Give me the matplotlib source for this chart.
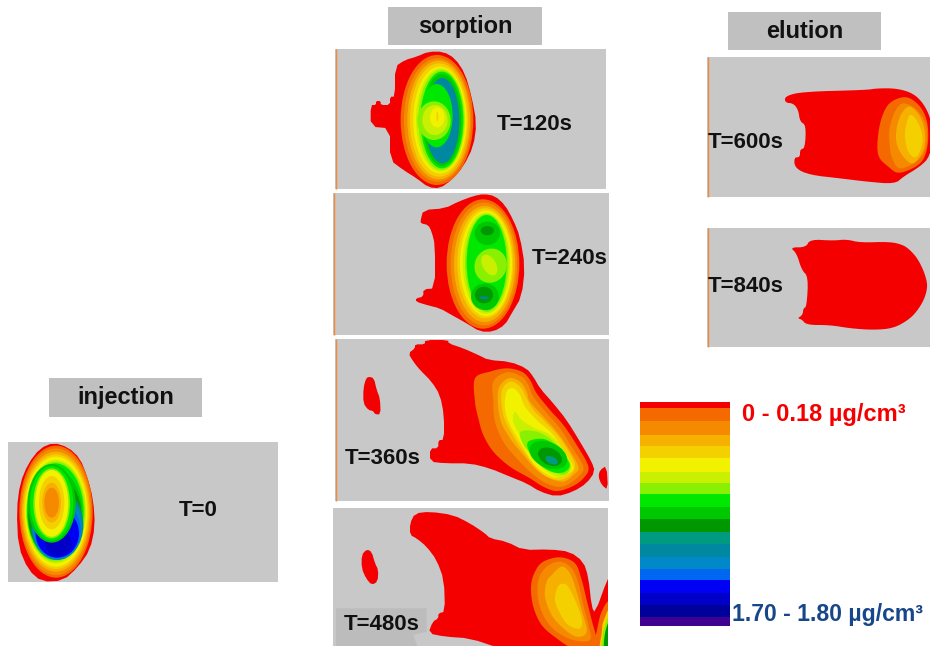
import numpy as np
import matplotlib
matplotlib.use("Agg")
import matplotlib.pyplot as plt
from matplotlib.patches import Ellipse, Polygon, Rectangle

plt.rcParams['font.family'] = ['Liberation Sans', 'DejaVu Sans']

# colour scale, red (low) to violet (high), with the pixel height of each strip
scale_colors = ['#f50000', '#f56a00', '#f58a00', '#f5b000', '#f5d000', '#f2f200', '#c8f000',
                '#88f000', '#00e800', '#00c800', '#009800', '#009a80', '#0088a0', '#0088c8',
                '#0068f0', '#0000f5', '#0000c8', '#00009a', '#400090']
scale_heights = [6, 13, 14, 11, 12, 14, 11, 11, 13, 12, 13, 12, 13, 12, 11, 13, 12, 12, 9]
scale_low = '0 - 0.18 µg/cm³'
scale_high = '1.70 - 1.80 µg/cm³'

headers = ['injection', 'sorption', 'elution']
times = ['T=0', 'T=120s', 'T=240s', 'T=360s', 'T=480s', 'T=600s', 'T=840s']

# Concentration outlines at 3x, each relative to its crop origin.
# Ellipse bands are (colour index, cx, cy, rx, ry, tilt)
t0_red = [(160, 218), (205, 232), (240, 265), (262, 320), (280, 390), (285, 470), (270, 540), (235, 590),
          (190, 632), (125, 635), (85, 600), (55, 530), (50, 420), (60, 340), (85, 280), (120, 235)]
t0_bands = [(1, 168, 425, 110, 198, 0), (2, 168, 425, 106, 190, 0), (3, 168, 425, 102, 180, 0),
            (4, 168, 425, 98, 172, 0), (5, 168, 425, 94, 165, 0), (6, 168, 425, 90, 155, 0),
            (7, 167, 425, 88, 150, 0), (8, 166, 425, 85, 145, 0), (9, 165, 430, 82, 130, 0),
            (10, 165, 440, 80, 120, 0), (12, 172, 465, 78, 105, 0), (13, 172, 470, 74, 98, 0),
            (14, 172, 480, 70, 85, 0), (15, 172, 490, 65, 73, 0), (16, 175, 520, 40, 38, 0),
            (9, 155, 400, 72, 118, 0), (8, 155, 400, 65, 112, 0), (7, 155, 400, 55, 105, 0),
            (5, 155, 400, 50, 100, 0), (4, 155, 398, 38, 80, 0), (3, 155, 398, 28, 60, 0),
            (2, 155, 398, 22, 45, 0)]

t120_red = [(295, 155), (340, 155), (375, 175), (405, 220), (425, 290), (440, 370), (430, 440), (400, 500),
            (365, 540), (330, 565), (295, 562), (260, 535), (220, 510), (180, 480), (180, 385), (122, 380),
            (122, 315), (138, 315), (138, 303), (152, 303), (152, 315), (180, 315), (180, 290), (195, 290),
            (195, 200), (225, 180), (260, 170)]
t120_bands = [(1, 321, 360, 109, 195, 0), (2, 323, 360, 101, 185, 0), (3, 326, 360, 94, 178, 0),
              (4, 327, 360, 87, 170, 0), (5, 330, 360, 80, 160, 0), (6, 332, 360, 74, 155, 0),
              (7, 334, 360, 69, 150, 0), (8, 336, 360, 64, 145, 0), (9, 336, 360, 58, 138, 0),
              (12, 337, 362, 51, 128, 0), (8, 320, 347, 48, 95, 0), (7, 312, 362, 50, 58, 0),
              (6, 315, 360, 38, 45, 0), (5, 322, 352, 22, 30, 0), (4, 322, 350, 3, 15, 0)]

t240_red = [(462, 12), (495, 18), (525, 45), (550, 90), (570, 140), (585, 230), (575, 320), (545, 370),
            (525, 405), (490, 425), (450, 425), (410, 400), (365, 375), (330, 355), (290, 345), (258, 335),
            (258, 325), (280, 320), (280, 298), (315, 295), (315, 165), (305, 125), (295, 105), (272, 100),
            (272, 90), (280, 60), (345, 55), (385, 35), (430, 18)]
t240_bands = [(1, 459, 222, 109, 194, 0), (2, 462, 222, 100, 184, 0), (3, 464, 222, 92, 174, 0),
              (4, 466, 220, 84, 165, 0), (5, 468, 220, 78, 158, 0), (6, 469, 220, 71, 152, 0),
              (7, 470, 219, 65, 147, 0), (8, 470, 218, 60, 143, 0), (9, 472, 130, 38, 35, 0),
              (9, 465, 320, 42, 40, 0), (10, 472, 122, 20, 14, 0), (10, 462, 315, 27, 25, 0),
              (12, 462, 323, 14, 4, 0), (7, 482, 227, 48, 52, 25), (6, 478, 225, 34, 20, 60)]

t360_red = [(285, 15), (355, 15), (355, 25), (400, 40), (445, 60), (475, 75), (540, 80), (590, 100), (610, 125),
            (630, 160), (670, 205), (710, 255), (750, 320), (785, 380), (795, 410), (770, 445), (730, 470),
            (680, 485), (630, 470), (590, 445), (540, 425), (480, 400), (420, 385), (345, 385), (300, 380),
            (300, 340), (325, 340), (325, 315), (342, 315), (342, 240), (330, 180), (305, 140), (270, 105),
            (250, 80), (235, 55), (255, 40), (255, 28), (285, 28)]
t360_island1 = [(118, 125), (132, 130), (140, 165), (150, 190), (152, 238), (135, 238), (130, 228), (115, 225),
                (100, 205), (100, 160), (108, 130)]
t360_island2 = [(830, 392), (834, 465), (815, 450), (805, 425), (810, 405)]
t360_c1 = [(435, 130), (480, 110), (530, 100), (575, 110), (600, 135), (620, 175), (660, 225), (700, 270),
           (740, 330), (775, 395), (760, 430), (725, 455), (680, 468), (640, 455), (600, 430), (540, 395),
           (490, 350), (460, 300), (445, 250), (435, 200)]
t360_c2 = [(490, 140), (530, 112), (575, 125), (595, 150), (610, 185), (650, 235), (690, 280), (725, 335),
           (760, 395), (745, 425), (710, 450), (680, 455), (640, 440), (600, 410), (560, 370), (520, 320),
           (495, 260), (490, 200)]
t360_c3 = [(505, 165), (535, 130), (570, 140), (590, 170), (600, 200), (640, 245), (680, 290), (715, 340),
           (745, 395), (730, 420), (700, 440), (660, 430), (620, 405), (580, 360), (540, 310), (510, 250)]
t360_c4 = [(515, 170), (540, 140), (570, 155), (590, 190), (610, 225), (650, 265), (690, 310), (725, 365),
           (735, 395), (720, 420), (690, 435), (650, 425), (615, 395), (580, 350), (545, 295), (520, 240)]
t360_c5 = [(530, 170), (550, 160), (570, 180), (585, 215), (620, 255), (665, 295), (700, 345), (730, 395),
           (715, 415), (680, 428), (645, 415), (610, 385), (575, 330), (540, 270), (525, 220)]
t360_c6 = [(555, 230), (575, 255), (615, 280), (660, 300), (700, 345), (725, 395), (705, 420), (680, 425),
           (640, 400), (600, 355), (570, 300), (550, 260)]
t360_c7 = [(572, 290), (620, 290), (665, 315), (705, 360), (722, 395), (700, 420), (650, 400), (605, 360),
           (578, 325)]
t360_c8 = [(595, 320), (640, 312), (680, 335), (718, 385), (705, 410), (670, 412), (630, 390), (598, 350)]
t360_curves = [(1, t360_c1), (2, t360_c2), (3, t360_c3), (4, t360_c4), (5, t360_c5), (6, t360_c6), (7, t360_c7),
               (8, t360_c8)]
t360_bands = [(9, 655, 360, 60, 38, 25), (10, 660, 365, 38, 25, 25), (11, 665, 376, 20, 11, 25)]

t480_red = [(255, 40), (300, 35), (370, 45), (420, 70), (465, 100), (480, 115), (530, 125), (580, 150), (660, 148),
            (720, 155), (760, 185), (775, 230), (785, 320), (795, 340), (833, 235), (840, 235), (840, 445), (510, 445),
            (420, 415), (345, 410), (295, 400), (308, 365), (325, 355), (325, 340), (345, 335), (342, 240),
            (320, 180), (290, 140), (260, 115), (240, 105), (240, 70)]
t480_island = [(110, 148), (125, 155), (135, 190), (145, 210), (143, 245), (125, 255), (108, 235), (95, 205),
               (95, 165)]
t480_shadow = [(18, 325), (290, 325), (290, 395), (250, 405), (262, 438), (18, 438)]
t480_c1 = [(640, 185), (690, 172), (735, 190), (755, 240), (770, 300), (785, 360), (800, 420), (790, 445),
           (730, 445), (680, 415), (635, 375), (610, 320), (603, 260), (615, 215)]
t480_c2 = [(650, 200), (690, 185), (725, 205), (745, 250), (760, 315), (775, 375), (780, 420), (730, 420),
           (680, 395), (645, 355), (625, 300), (625, 240)]
t480_c3 = [(665, 225), (695, 200), (720, 220), (740, 275), (755, 330), (770, 395), (740, 410), (700, 385),
           (665, 345), (645, 290), (650, 245)]
t480_c4 = [(685, 258), (710, 255), (735, 300), (755, 355), (750, 385), (715, 375), (690, 340), (675, 300)]
t480_edge1 = [(840, 310), (815, 335), (800, 395), (790, 450), (840, 450)]
t480_edge2 = [(840, 330), (820, 365), (815, 400), (810, 450), (840, 450)]
t480_edge3 = [(840, 350), (824, 380), (818, 410), (816, 450), (840, 450)]
t480_edge4 = [(840, 365), (826, 395), (822, 450), (840, 450)]
t480_curves = [(1, t480_c1), (2, t480_c2), (3, t480_c3), (4, t480_c4), (1, t480_edge1), (4, t480_edge2),
               (7, t480_edge3), (10, t480_edge4)]

t600_red = [(255, 288), (310, 275), (500, 270), (530, 265), (590, 265), (640, 280), (670, 310), (690, 350),
            (700, 400), (690, 470), (660, 500), (610, 530), (585, 552), (500, 545), (420, 535), (330, 525), (285, 505),
            (282, 472), (300, 472), (300, 448), (315, 445), (318, 375), (300, 365), (295, 330), (280, 310),
            (255, 308)]
t600_c1 = [(535, 400), (550, 340), (575, 305), (620, 292), (660, 320), (682, 370), (682, 440), (660, 490),
           (600, 518), (565, 500), (535, 465)]
t600_c2 = [(570, 380), (585, 335), (610, 310), (650, 330), (678, 375), (678, 440), (655, 480), (600, 505),
           (575, 470), (568, 420)]
t600_c3 = [(590, 385), (605, 340), (630, 320), (660, 350), (675, 400), (670, 450), (640, 490), (610, 470),
           (590, 430)]
t600_c4 = [(615, 400), (630, 345), (655, 370), (668, 420), (650, 470), (625, 455)]
t600_curves = [(1, t600_c1), (2, t600_c2), (3, t600_c3), (4, t600_c4)]

t840_red = [(270, 742), (318, 742), (330, 718), (400, 722), (440, 718), (480, 728), (570, 725), (610, 735),
            (630, 750), (650, 772), (668, 805), (680, 840), (682, 865), (672, 900), (650, 935), (625, 960),
            (580, 985), (520, 990), (450, 985), (390, 975), (320, 975), (305, 958), (292, 955), (308, 945),
            (310, 925), (320, 920), (325, 830), (305, 810), (290, 760)]


def rounded(pts, n=2):
    # closed Catmull-Rom curve through the outline points
    pts = np.array(pts, dtype=float)
    p0, p1, p2, p3 = np.roll(pts, 1, axis=0), pts, np.roll(pts, -1, axis=0), np.roll(pts, -2, axis=0)
    out = []
    for t in np.linspace(0, 1, 6 * n, endpoint=False):
        out.append(0.5 * (2 * p1 + (p2 - p0) * t + (2 * p0 - 5 * p1 + 4 * p2 - p3) * t ** 2
                          + (3 * p1 - p0 - 3 * p2 + p3) * t ** 3))
    return np.stack(out, axis=1).reshape(-1, 2)


def chaikin(pts, n=1):
    pts = np.array(pts, dtype=float)
    for _ in range(n):
        nxt = np.roll(pts, -1, axis=0)
        pts = np.column_stack([0.75 * pts + 0.25 * nxt, 0.25 * pts + 0.75 * nxt]).reshape(-1, 2)
    return pts


def draw_panel(ax, box, origin, red=(), bands=(), curves=(), islands=(), edge=True, cut=1):
    x0, y0, x1, y1 = box
    ox, oy = origin
    clip = Rectangle((x0, y0), x1 - x0, y1 - y0, transform=ax.transData)
    ax.add_patch(Rectangle((x0, y0), x1 - x0, y1 - y0, fc='#c8c8c8', ec='none'))
    shapes = []
    for outline in [red] + list(islands):
        if len(outline):
            shapes.append(Polygon(chaikin(outline, cut) / 3 + [ox, oy], fc=scale_colors[0], ec='none'))
    for c, outline in curves:
        shapes.append(Polygon(rounded(outline) / 3 + [ox, oy], fc=scale_colors[c], ec='none'))
    for c, cx, cy, rx, ry, tilt in bands:
        shapes.append(Ellipse((cx / 3 + ox, cy / 3 + oy), 2 * rx / 3, 2 * ry / 3, angle=tilt,
                              fc=scale_colors[c], ec='none'))
    for s in shapes:
        ax.add_patch(s)
        s.set_clip_path(clip)
    if edge:
        ax.plot([x0 + 0.5, x0 + 0.5], [y0, y1], color='#f08a3c', lw=1.0, solid_capstyle='butt')


def draw_header(ax, box, label):
    x0, y0, x1, y1 = box
    ax.add_patch(Rectangle((x0, y0), x1 - x0, y1 - y0, fc='#c0c0c0', ec='none'))
    ax.text((x0 + x1) / 2, (y0 + y1) / 2, label, fontsize=17, fontweight='bold', color='#111111',
            ha='center', va='center')


fig, ax = plt.subplots(figsize=(9.3, 6.46), dpi=100)
ax.set_position([0, 0, 1, 1])
ax.set_xlim(0, 930)
ax.set_ylim(646, 0)
ax.axis('off')

draw_header(ax, (49, 378, 202, 417), headers[0])
draw_header(ax, (388, 7, 542, 45), headers[1])
draw_header(ax, (728, 12, 881, 50), headers[2])

draw_panel(ax, (8, 442, 278, 582), (0, 370), t0_red, t0_bands, edge=False)
draw_panel(ax, (335, 49, 606, 189), (330, 0), t120_red, t120_bands)
draw_panel(ax, (333, 193, 609, 335), (330, 190), t240_red, t240_bands)
draw_panel(ax, (335, 339, 609, 501), (330, 335), t360_red, t360_bands, t360_curves,
           [t360_island1, t360_island2])
draw_panel(ax, (333, 508, 608, 646), (330, 500), t480_red, (), t480_curves, [t480_island], edge=False)
shadow = Polygon(np.array(t480_shadow) / 3 + [330, 500], fc='#bcbcbc', ec='none')
ax.add_patch(shadow)
draw_panel(ax, (707, 57, 930, 197), (700, 0), t600_red, (), t600_curves, cut=2)
draw_panel(ax, (707, 228, 930, 347), (700, 0), t840_red, cut=2)

time_xy = [(198, 510), (535, 124), (570, 259), (383, 459), (382, 624), (746, 142), (746, 287)]
for label, (tx, ty) in zip(times, time_xy):
    ax.text(tx, ty, label, fontsize=16, fontweight='bold', color='#111111', ha='center', va='center')

# colour scale strips
tops = 402 + np.concatenate([[0], np.cumsum(scale_heights)[:-1]])
ax.bar(np.full(len(scale_heights), 685), scale_heights, width=90, bottom=tops, color=scale_colors,
       linewidth=0)
ax.text(742, 415, scale_low, fontsize=17, fontweight='bold', color='#f50000', ha='left', va='center')
ax.text(732, 615, scale_high, fontsize=16.6, fontweight='bold', color='#17478a', ha='left', va='center')

ax.set_xlim(0, 930)
ax.set_ylim(646, 0)
fig.savefig('out.png', dpi=100)
